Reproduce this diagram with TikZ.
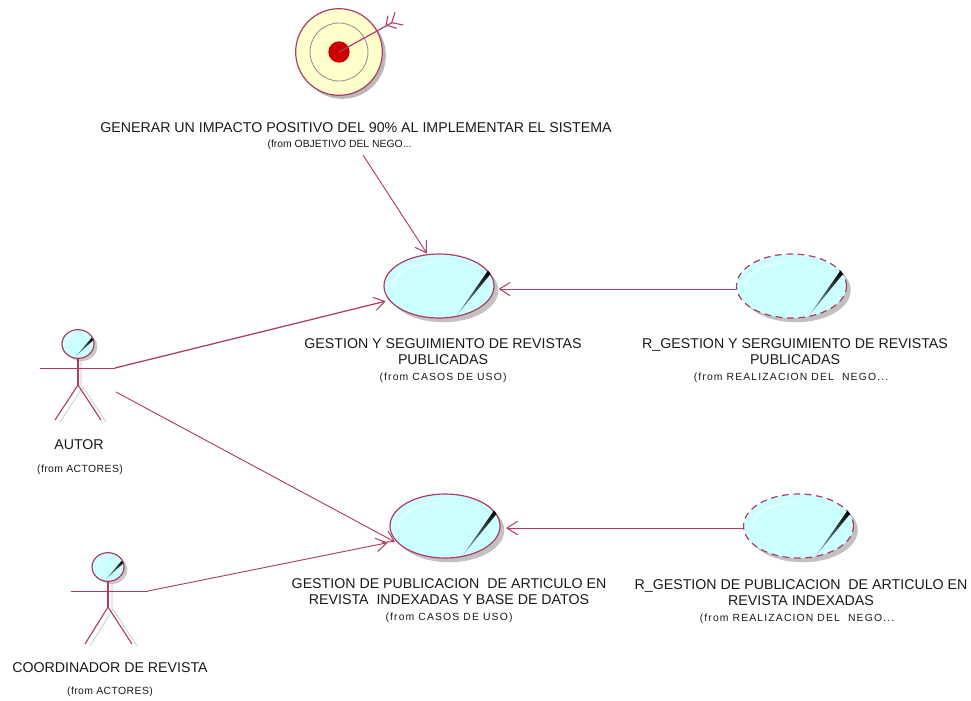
\documentclass[tikz,border=0pt]{standalone}
\usepackage{fontspec}
\setmainfont{Liberation Sans}
\usetikzlibrary{shapes.geometric,arrows.meta,shadows}
\definecolor{umlline}{HTML}{AE3C66}
\definecolor{ucfill}{HTML}{CCFFFF}
\definecolor{goalfill}{HTML}{FFFFCC}
\definecolor{goalred}{HTML}{CC0000}
\newcommand{\biglabel}{\fontsize{10.65}{13}\selectfont}
\newcommand{\smalllabel}[1][0]{\fontsize{7.8}{13}\selectfont\addfontfeature{LetterSpace=#1}}
\tikzset{
  x=0.75pt,y=-0.75pt,
  link/.style={draw=umlline,line width=0.7pt,-{Straight Barb[length=8pt,width=10pt,line width=0.75pt]}},
  limb/.style={draw=umlline,line width=0.85pt},
  limbshadow/.style={draw=black!15,line width=0.9pt},
  ucase/.style={ellipse,draw=umlline,line width=0.9pt,fill=ucfill,inner sep=0pt,
    minimum width=82.5pt,minimum height=48pt,
    general shadow={fill=black!35,shadow xshift=3.2pt,shadow yshift=-3.2pt,opacity=0.7}},
  ucdash/.style={ucase,dash pattern=on 5pt off 3.5pt},
  acthead/.style={ellipse,draw=umlline,line width=0.9pt,fill=ucfill,inner sep=0pt,
    minimum width=24pt,minimum height=21.5pt,
    general shadow={fill=black!30,shadow xshift=2.5pt,shadow yshift=-2pt,opacity=0.7}},
  lbl/.style={align=center,inner sep=0pt,text=black!90},
  ucdeco/.pic={
    \draw[white,line width=0.6pt] (-47,1) .. controls (-45,-14) and (-25,-23) .. (-2,-24);
    \shade[top color=black,middle color=black,bottom color=ucfill!70!black]
      (51.5,-12) -- (49,-15.5) -- (18,29) -- cycle;
  },
  actdeco/.pic={
    \draw[white,line width=0.5pt] (-12,2) .. controls (-11,-6) and (-6,-10) .. (-1,-11);
    \shade[top color=black,middle color=black!70,bottom color=ucfill!70!black]
      (15.5,-4) -- (13.5,-6) -- (-2,12) -- cycle;
  }
}
\begin{document}
\begin{tikzpicture}
\useasboundingbox (0,0) rectangle (971,700);
% objective
\fill[black!28] (342.5,55.5) circle[radius=32.5pt];
\node[circle,draw=umlline,line width=0.9pt,fill=goalfill,inner sep=0pt,minimum size=65pt] (goal) at (339,52) {};
\node[circle,draw=black!40,line width=0.7pt,inner sep=0pt,minimum size=43.5pt] (goalring) at (339,52) {};
\node[circle,fill=goalred,inner sep=0pt,minimum size=16pt] (goalcore) at (339,52) {};
\coordinate (feather) at (392,22.7);
\draw[umlline,line width=0.9pt] (goalcore.center) -- (feather);
\draw[umlline,line width=0.8pt] (386,25) -- (388,15.7) (391.7,22.7) -- (395,12.3) (386,25) -- (396.7,28.3) (391.7,22.7) -- (403.3,25);
\node[lbl] (goallabel) at (356,128) {\biglabel GENERAR UN IMPACTO POSITIVO DEL 90\% AL IMPLEMENTAR EL SISTEMA};
\node[lbl] (goalfrom) at (339.5,144.5) {\smalllabel (from OBJETIVO DEL NEGO...};
\coordinate (goalfoot) at (363,155);
% use cases
\node[ucase] (uc1) at (439,286) {};
\pic at (uc1.center) {ucdeco};
\node[ucdash] (uc2) at (791.5,286) {};
\pic at (uc2.center) {ucdeco};
\node[ucase] (uc3) at (445,526) {};
\pic at (uc3.center) {ucdeco};
\node[ucdash] (uc4) at (798.5,526) {};
\pic at (uc4.center) {ucdeco};
\node[lbl] (uc1label) at (443,360.5) {{\biglabel GESTION Y SEGUIMIENTO DE REVISTAS}\\{\biglabel PUBLICADAS}\\{\smalllabel[11] (from CASOS DE USO)}};
\node[lbl] (uc2label) at (795,360.5) {{\biglabel R\_GESTION Y SERGUIMIENTO DE REVISTAS}\\{\biglabel PUBLICADAS}\\{\smalllabel[11] (from REALIZACION DEL\ \ NEGO...\hspace*{6pt}}};
\node[lbl] (uc3label) at (449,601) {{\biglabel GESTION DE PUBLICACION\ \ DE ARTICULO EN}\\{\biglabel REVISTA\ \ INDEXADAS Y BASE DE DATOS}\\{\smalllabel[11] (from CASOS DE USO)}};
\node[lbl] (uc4label) at (801,601.5) {{\biglabel R\_GESTION DE PUBLICACION\ \ DE ARTICULO EN}\\{\biglabel REVISTA INDEXADAS}\\{\smalllabel[11] (from REALIZACION DEL\ \ NEGO...\hspace*{6pt}}};
% actor 1
\draw[limbshadow] (81,360) -- (81,387) (83,387) -- (60,422) (83,387) -- (106,422);
\node[acthead] (act1) at (78,344) {};
\pic at (act1.center) {actdeco};
\coordinate (act1hip) at (78,385);
\coordinate (act1left) at (40,368);
\coordinate (act1hand) at (115,368);
\coordinate (act1side) at (116,392);
\draw[limb] (act1.south) -- (act1hip);
\draw[limb] (act1hip) -- (55,420) (act1hip) -- (101,420);
\draw[umlline,line width=0.7pt] (act1left) -- (act1hand);
\node[lbl] (act1name) at (79,444.5) {\biglabel AUTOR};
\node[lbl] (act1from) at (80,469.5) {\smalllabel[4] (from ACTORES)};
% actor 2
\draw[limbshadow] (112,583) -- (112,609) (113,609) -- (90,646) (113,609) -- (137,646);
\node[acthead] (act2) at (108,567) {};
\pic at (act2.center) {actdeco};
\coordinate (act2hip) at (108,607);
\coordinate (act2left) at (71,591);
\coordinate (act2hand) at (148,591);
\draw[limb] (act2.south) -- (act2hip);
\draw[limb] (act2hip) -- (85,644) (act2hip) -- (132,644);
\draw[umlline,line width=0.7pt] (act2left) -- (act2hand);
\node[lbl] (act2name) at (110,667.5) {\biglabel COORDINADOR DE REVISTA};
\node[lbl] (act2from) at (110,692) {\smalllabel[4] (from ACTORES)};
% connectors
\draw[link,shorten >=0.5pt] (goalfoot) -- (uc1.110);
\draw[link,line width=0.95pt,shorten >=2.5pt] (act1hand) -- (uc1.196);
\coordinate (uc2out) at (736,289);
\draw[link,shorten >=3pt] (uc2out) -- (uc1.east |- uc2out);
\draw[link,shorten >=3pt] (act1side) -- (uc3.201);
\draw[link,shorten >=6pt] (act2hand) -- (uc3.197);
\coordinate (uc4out) at (743,528);
\draw[link,shorten >=4pt] (uc4out) -- (uc3.east |- uc4out);
\end{tikzpicture}
\end{document}
